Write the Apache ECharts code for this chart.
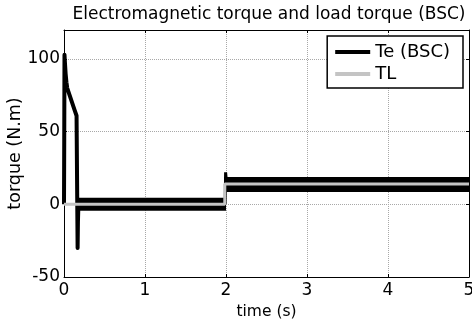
<!DOCTYPE html>
<html>
<head>
<meta charset="utf-8">
<script src="https://cdn.jsdelivr.net/npm/echarts@6/dist/echarts.min.js"></script>
<style>
html,body{margin:0;padding:0;background:#fff;}
#chart{width:472px;height:329px;}
</style>
</head>
<body>
<div id="chart"></div>
<script>
// x ticks (time, s) and y ticks (torque, N.m)
var xTicks = [0, 1, 2, 3, 4, 5];
var yTicks = [-50, 0, 50, 100];

// Te (BSC): start-up transient (time, torque)
var teStartT = [0, 0.003, 0.006, 0.012, 0.02, 0.03, 0.04, 0.07, 0.10, 0.13, 0.155, 0.165, 0.168, 0.172, 0.178];
var teStartV = [0, 45, 103, 97, 90, 84, 80, 75, 70, 65, 61, 60, -30, -12, 0];

// Te (BSC): steady ripple band before load step (mean)
var teBand1T = [0.178, 2.0];
var teBand1V = [0, 0];

// Te (BSC): load-step spike
var teStepT = [1.99, 1.995, 2.005];
var teStepV = [0, 22, 16];

// Te (BSC): steady ripple band after load step (mean)
var teBand2T = [1.99, 5.0];
var teBand2V = [13.6, 13.6];

// TL: load torque
var tlT = [0, 1.985, 1.985, 5.0];
var tlV = [0, 0, 14, 14];

function pairs(t, v) { return t.map(function (x, i) { return [x, v[i]]; }); }

var FONT = 'DejaVu Sans';
var chart = echarts.init(document.getElementById('chart'), null, {renderer: 'canvas'});

var axisCommon = {
  axisLine: {show: true, onZero: false, lineStyle: {color: '#000', width: 1}},
  axisTick: {show: true, inside: true, length: 3, lineStyle: {color: '#000'}},
};

chart.setOption({
  animation: false,
  backgroundColor: '#fff',
  title: {
    text: 'Electromagnetic torque and load torque (BSC)',
    left: 264, top: 1, textAlign: 'center',
    textStyle: {fontFamily: FONT, fontSize: 17, fontWeight: 'normal', color: '#000'}
  },
  grid: {left: 64, right: 3, top: 30, bottom: 52, containLabel: false, outerBoundsMode: 'none'},
  legend: {
    orient: 'vertical', right: 9, top: 36,
    backgroundColor: '#fff', borderColor: '#000', borderWidth: 1.5, borderRadius: 0,
    padding: [7, 13, 5, 8], itemGap: 4, itemWidth: 35, itemHeight: 4,
    textStyle: {fontFamily: FONT, fontSize: 18, color: '#000'},
    data: [{name: 'Te (BSC)', icon: 'rect'}, {name: 'TL', icon: 'rect'}]
  },
  xAxis: [
    Object.assign({
      type: 'value', min: xTicks[0], max: xTicks[xTicks.length - 1], interval: 1, position: 'bottom',
      name: 'time (s)', nameLocation: 'middle', nameGap: 27, nameMoveOverlap: false,
      nameTextStyle: {fontFamily: FONT, fontSize: 15.5, color: '#000'},
      axisLabel: {fontFamily: FONT, fontSize: 17, color: '#000', margin: 5},
      splitLine: {show: true, lineStyle: {color: '#a8a8a8', type: 'dotted', width: 1}}
    }, axisCommon),
    Object.assign({
      type: 'value', min: xTicks[0], max: xTicks[xTicks.length - 1], interval: 1, position: 'top',
      axisLabel: {show: false}, splitLine: {show: false}
    }, axisCommon)
  ],
  yAxis: [
    Object.assign({
      type: 'value', min: yTicks[0], max: 120, interval: 50, position: 'left',
      name: 'torque (N.m)', nameLocation: 'middle', nameGap: 40, nameMoveOverlap: false,
      nameTextStyle: {fontFamily: FONT, fontSize: 17.5, color: '#000'},
      axisLabel: {fontFamily: FONT, fontSize: 17, color: '#000', margin: 4, showMaxLabel: false},
      splitLine: {show: true, lineStyle: {color: '#a8a8a8', type: 'dotted', width: 1}}
    }, axisCommon),
    Object.assign({
      type: 'value', min: yTicks[0], max: 120, interval: 50, position: 'right',
      axisLabel: {show: false}, splitLine: {show: false}
    }, axisCommon)
  ],
  series: [
    {name: 'Te (BSC)', type: 'line', symbol: 'none', color: '#000', data: pairs(teBand1T, teBand1V),
      lineStyle: {color: '#000', width: 13, cap: 'butt'}},
    {name: 'Te (BSC)', type: 'line', symbol: 'none', color: '#000', data: pairs(teBand2T, teBand2V),
      lineStyle: {color: '#000', width: 15, cap: 'butt'}},
    {name: 'Te (BSC)', type: 'line', symbol: 'none', color: '#000', data: pairs(teStartT, teStartV),
      lineStyle: {color: '#000', width: 4, join: 'round'}},
    {name: 'Te (BSC)', type: 'line', symbol: 'none', color: '#000', data: pairs(teStepT, teStepV),
      lineStyle: {color: '#000', width: 3}},
    {name: 'TL', type: 'line', symbol: 'none', color: '#c4c4c4', data: pairs(tlT, tlV),
      lineStyle: {color: '#c4c4c4', width: 3}}
  ]
});
</script>
</body>
</html>
